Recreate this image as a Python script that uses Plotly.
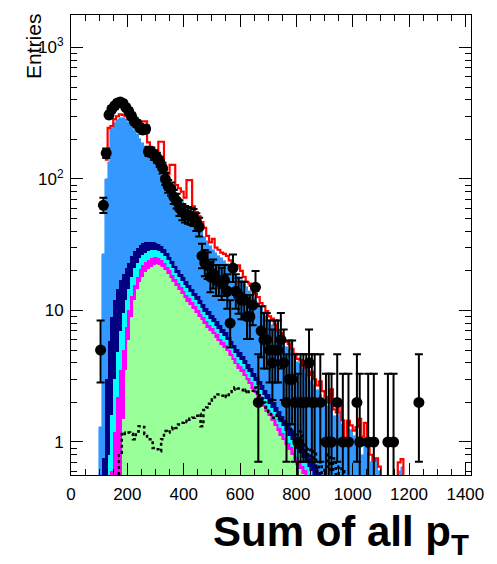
import math
import plotly.graph_objects as go

# ---------------- data (10 GeV bins, first bin starts at 100 GeV) ----------------
bin_width = 10.0
first_bin_low = 100.0

green = [0, 0, 0, 0, 0, 0, 0.05, 0.3, 1.5, 3.5,
         6, 9, 12, 14.5, 16.5, 18, 19.5, 20.5, 21.5, 22.2,
         22.5, 22.3, 21.5, 20.3, 19, 17.8, 16.5, 15.3, 14.2, 13.3,
         12.5, 11.7, 11, 10.3, 9.6, 9.0, 8.4, 7.9, 7.4, 7.0,
         6.6, 6.2, 5.9, 5.5, 5.2, 4.9, 4.5, 4.2, 3.9, 3.6,
         3.4, 3.2, 2.95, 2.75, 2.55, 2.35, 2.18, 2.0, 1.85, 1.7,
         1.57, 1.45, 1.33, 1.22, 1.12, 1.03, 0.95, 0.87, 0.8, 0.73,
         0.67, 0.62, 0.57, 0.52, 0.48, 0.44, 0.4, 0.36, 0.33, 0.3,
         0.27, 0.24, 0.22, 0.2, 0.18, 0.16, 0.14, 0.12, 0.1, 0.09,
         0.08, 0, 0, 0, 0, 0, 0, 0, 0, 0,
         0, 0, 0, 0, 0, 0, 0, 0, 0, 0,
         0, 0, 0, 0, 0]

magenta = [0, 0.05, 0.1, 0.3, 0.6, 1.2, 2.15, 3.2, 3.5, 4.0,
           4.0, 4.0, 3.5, 3.5, 4.0, 4.0, 3.8, 3.8, 3.5, 3.2,
           3.0, 2.9, 2.8, 2.7, 2.6, 2.4, 2.2, 2.0, 1.85, 1.7,
           1.6, 1.5, 1.4, 1.3, 1.2, 1.1, 1.02, 0.95, 0.88, 0.82,
           0.77, 0.72, 0.67, 0.62, 0.58, 0.54, 0.5, 0.47, 0.44, 0.41,
           0.38, 0.36, 0.33, 0.31, 0.29, 0.27, 0.25, 0.23, 0.21, 0.2,
           0.19, 0.18, 0.17, 0.16, 0.15, 0.14, 0.13, 0.12, 0.11, 0.11,
           0.1, 0.1, 0.09, 0.09, 0.08, 0.08, 0.07, 0.07, 0.06, 0.06,
           0.05, 0.05, 0.04, 0.04, 0.03, 0.03, 0, 0, 0, 0,
           0, 0, 0, 0, 0, 0, 0, 0, 0, 0,
           0, 0, 0, 0, 0, 0, 0, 0, 0, 0,
           0, 0, 0, 0, 0]

cyan = [0, 0.05, 0.2, 0.5, 1.0, 1.8, 2.6, 3.5, 4.5, 4.5,
        4.5, 5.0, 5.5, 5.0, 4.5, 4.5, 4.2, 3.9, 3.6, 3.4,
        3.2, 3.0, 2.9, 2.8, 2.6, 2.4, 2.2, 2.05, 1.9, 1.75,
        1.62, 1.5, 1.4, 1.3, 1.2, 1.12, 1.04, 0.97, 0.9, 0.84,
        0.78, 0.73, 0.68, 0.63, 0.59, 0.55, 0.51, 0.48, 0.45, 0.42,
        0.39, 0.37, 0.34, 0.32, 0.3, 0.28, 0.26, 0.24, 0.23, 0.21,
        0.2, 0.19, 0.18, 0.17, 0.16, 0.15, 0.14, 0.13, 0.12, 0.12,
        0.11, 0.1, 0.1, 0.09, 0.09, 0.08, 0.08, 0.07, 0.07, 0.06,
        0.06, 0.05, 0.05, 0.04, 0.04, 0.03, 0, 0, 0, 0,
        0, 0, 0, 0, 0, 0, 0, 0, 0, 0,
        0, 0, 0, 0, 0, 0, 0, 0, 0, 0,
        0, 0, 0, 0, 0]

navy = [0.3, 0.65, 2.7, 5.1, 7.4, 9.0, 9.7, 10, 9.5, 9,
        8.5, 8, 7.5, 7, 6.5, 6, 5.5, 5.1, 4.8, 4.4,
        4.1, 3.8, 3.6, 3.4, 3.2, 3.0, 2.8, 2.6, 2.45, 2.3,
        2.15, 2.0, 1.9, 1.78, 1.67, 1.57, 1.47, 1.38, 1.3, 1.22,
        1.15, 1.08, 1.02, 0.96, 0.9, 0.85, 0.8, 0.75, 0.71, 0.67,
        0.63, 0.6, 0.56, 0.53, 0.5, 0.47, 0.45, 0.42, 0.4, 0.38,
        0.36, 0.34, 0.32, 0.3, 0.29, 0.27, 0.26, 0.25, 0.23, 0.22,
        0.21, 0.2, 0.19, 0.18, 0.17, 0.16, 0.15, 0.14, 0.13, 0.12,
        0.11, 0.1, 0.1, 0.09, 0.08, 0.08, 0.07, 0.06, 0.05, 0.05,
        0.04, 0, 0, 0, 0, 0, 0, 0, 0, 0,
        0, 0, 0, 0, 0, 0, 0, 0, 0, 0,
        0, 0, 0, 0, 0]

blue = [1.0, 26.3, 97, 129, 231, 253, 265.5, 275, 273, 264,
        247, 226, 206.5, 188, 171.5, 155.5, 141, 127.7, 114.6, 101.8,
        90.2, 80, 73.2, 67.8, 63.6, 60.4, 57.3, 54, 50.6, 48,
        45.1, 42.3, 39.3, 36.3, 33.3, 30.2, 27.6, 25.3, 23.0, 21.1,
        19.7, 18.8, 17.7, 17.3, 16.7, 15.7, 14.7, 14.1, 13.5, 12.9,
        12.2, 11.5, 10.8, 10.1, 9.4, 8.8, 8.3, 7.7, 7.1, 6.6,
        6.1, 5.6, 5.2, 4.75, 4.4, 4.1, 3.8, 3.6, 3.45, 3.2,
        3.0, 2.9, 2.65, 2.4, 2.3, 2.15, 2.0, 1.85, 1.7, 1.6,
        1.5, 1.45, 1.6, 1.2, 1.25, 1.4, 1.15, 0.9, 1.1, 1.1,
        1.0, 1.3, 1.0, 0.8, 1.0, 0.82, 0.7, 0.72, 0.75, 0.6,
        0.5, 0.45, 0.4, 0.35, 0.35, 0.3, 0.6, 0.65, 0.3, 0.2,
        0.1, 0, 0, 0, 0]

red_extra = [0, 0, 40, 110, 12, 20, 20, 18, 15, 15,
             15, 18, 15, 22, 27, 86, 100, 29, 27, 25,
             22, 80, 88, 21, 19, 42, 47, 14, 14, 13,
             9, 39, 43, 11, 9, 9, 7.5, 6, 3.5, 2,
             6, 2.5, 3, 2.5, 3, 3.5, 3, 2, 2.5, 4,
             3, 2, 1.5, 2, 1.5, 1.2, 1.2, 0.8, 1.0, 0.8,
             0.6, 0.9, 0.6, 0.5, 0.6, 0.4, 0.5, 0.6, 0.4, 0.3,
             0.2, 0.3, 0.2, 0.4, 0.1, 0.5, 0.3, 0.2, 0.6, 0.3,
             0.2, 0.1, 0.5, 0.2, 0.1, 0.3, 0.1, 0.0, 0.2, 0.1,
             0.1, 0.0, 0.5, 0.3, 0.4, 0.1, 0.1, 0.0, 0.0, 0.05,
             0, 0, 0, 0, 0, 0, 0.1, 0.09, 0, 0,
             0, 0, 0, 0, 0]

signal = [0, 0, 0, 0, 0, 0, 0, 0.83, 1.18, 1.15,
          1.18, 1.15, 1.05, 1.2, 1.32, 1.3, 1.15, 1.1, 1.05, 0.9,
          0.88, 0.85, 1.05, 1.21, 1.18, 1.25, 1.3, 1.28, 1.36, 1.4,
          1.45, 1.42, 1.5, 1.53, 1.58, 1.63, 1.32, 1.75, 1.83, 1.95,
          2.1, 2.2, 2.3, 2.25, 2.3, 2.2, 2.4, 2.5, 2.6, 2.55,
          2.5, 2.4, 2.5, 2.4, 2.45, 2.6, 2.35, 2.24, 2.0, 1.83,
          1.7, 1.53, 1.6, 1.5, 1.53, 1.45, 1.4, 1.36, 1.25, 1.2,
          1.14, 1.2, 1.0, 0.8, 0.9, 0.75, 0.85, 0.6, 0.7, 0.55,
          0.65, 0.8, 0.6, 0.75, 0.5, 0.65, 0.6, 0.5, 0.3, 0.2,
          0, 0, 0, 0, 0, 0, 0, 0, 0, 0,
          0, 0, 0, 0, 0, 0, 0, 0, 0, 0,
          0, 0, 0, 0, 0]

data_counts = [5, 63, 157, 307, 340, 360, 379, 385, 375, 350,
               327, 300, 274, 262, 245, 236, 240, 162, 160, 152,
               145, 135, 121, 100, 88, 84, 73, 68, 60, 56,
               54, 53, 52, 51, 47, 43, 26, 23, 22, 18,
               19, 17, 17, 16, 17, 14, 8, 21, 14, 13,
               12, 12, 9, 9, 11, 15, 2, 7, 6, 6,
               5, 4, 5, 5, 6, 4, 2, 3, 3, 2,
               1, 2, 2, 2, 4, 2, 2, 0, 2, 0,
               1, 1, 1, 0, 2, 0, 1, 0, 1, 0,
               0, 2, 1, 0, 0, 1, 0, 1, 0, 0,
               0, 0, 1, 0, 1, 0, 0, 0, 0, 0,
               0, 0, 0, 2, 0]

x_tick_values = [0, 200, 400, 600, 800, 1000, 1200, 1400]
y_tick_values = [1, 10, 100, 1000]
y_tick_text = ["1", "10", "10<sup>2</sup>", "10<sup>3</sup>"]

# ---------------- derived ----------------
nb = len(blue)
lows = [first_bin_low + i * bin_width for i in range(nb)]
centers = [lo + bin_width / 2 for lo in lows]

FLOOR = 1e-3


def step_series(vals, start_at_first=False):
    """x/y for an 'hv' step outline of a histogram."""
    first = 0
    if start_at_first:
        while first < len(vals) and vals[first] <= 0:
            first += 1
    xs = [lows[i] for i in range(first, nb)] + [lows[-1] + bin_width]
    ys = [max(v, FLOOR) for v in vals[first:]]
    if not start_at_first:
        xs = [lows[0] - bin_width] + xs
        ys = [FLOOR] + ys
    ys = ys + [ys[-1]]
    return xs, ys


total_red = [g + m + c + n + b + r for g, m, c, n, b, r in
             zip(green, magenta, cyan, navy, blue, red_extra)]
# red outline is hidden by the blue stack where it does not stand above it
red_visible = [t if r > 0 else 0 for t, r in zip(total_red, red_extra)]
first_red = next(i for i, r in enumerate(red_extra) if r > 0)
red_for_line = [0] * first_red + total_red[first_red:]

# Garwood (Poisson 68%) intervals
GARWOOD = {1: (0.173, 3.300), 2: (0.708, 4.638), 3: (1.367, 5.918),
           4: (2.086, 7.163), 5: (2.840, 8.382), 6: (3.620, 9.584),
           7: (4.419, 10.77), 8: (5.232, 11.95), 9: (6.057, 13.11),
           10: (6.891, 14.27)}


def interval(n):
    if n in GARWOOD:
        return GARWOOD[n]
    return (n - math.sqrt(n - 0.25), n + math.sqrt(n + 0.75) + 1.0)


dx, dy, eplus, eminus = [], [], [], []
for xc, n in zip(centers, data_counts):
    if n <= 0:
        continue
    lo, hi = interval(n)
    dx.append(xc)
    dy.append(n)
    eplus.append(hi - n)
    eminus.append(n - lo)

fig = go.Figure()

stack = [
    (green, "#99ff99"),
    (magenta, "#ff00ff"),
    (cyan, "#00ffff"),
    (navy, "#000080"),
    (blue, "#3399ff"),
]
for vals, col in stack:
    fig.add_trace(go.Bar(
        x=centers, y=vals, width=bin_width,
        marker=dict(color=col, line=dict(color=col, width=0.6)),
        showlegend=False, hoverinfo="skip"))

rx, ry = step_series(red_for_line, start_at_first=True)
fig.add_trace(go.Scatter(
    x=rx, y=ry, mode="lines",
    line=dict(color="#ff0000", width=2.2, shape="hv"),
    showlegend=False, hoverinfo="skip"))

sx, sy = step_series(signal)
fig.add_trace(go.Scatter(
    x=sx, y=sy, mode="lines",
    line=dict(color="black", width=2.5, shape="hv", dash="dot"),
    showlegend=False, hoverinfo="skip"))

fig.add_trace(go.Scatter(
    x=dx, y=dy, mode="markers",
    marker=dict(color="black", size=11, symbol="circle"),
    error_y=dict(type="data", symmetric=False, array=eplus, arrayminus=eminus,
                 color="black", thickness=2, width=4),
    showlegend=False, hoverinfo="skip"))

axis_font = dict(family="Liberation Sans, Arial, sans-serif", size=17, color="black")

fig.update_layout(
    width=497, height=564,
    margin=dict(l=71, r=26, t=15, b=89),
    paper_bgcolor="white", plot_bgcolor="white",
    barmode="stack", bargap=0, bargroupgap=0,
    showlegend=False,
    xaxis=dict(range=[0, 1420], tickvals=x_tick_values,
               ticks="inside", ticklen=12, tickwidth=1, tickcolor="black",
               minor=dict(ticks="inside", ticklen=6, dtick=50, tickcolor="black", showgrid=False),
               showline=True, linecolor="black", linewidth=1, mirror="ticks",
               showgrid=False, zeroline=False, tickfont=axis_font,
               ticklabelstandoff=4),
    yaxis=dict(type="log", range=[-0.251, 3.247],
               tickvals=y_tick_values, ticktext=y_tick_text,
               ticks="inside", ticklen=12, tickwidth=1, tickcolor="black",
               minor=dict(ticks="inside", ticklen=6, tickcolor="black", showgrid=False,
                          tickvals=[m * 10 ** d for d in range(-1, 4) for m in range(2, 10)]),
               showline=True, linecolor="black", linewidth=1, mirror="ticks",
               showgrid=False, zeroline=False, tickfont=axis_font,
               ticklabelstandoff=3),
)

fig.add_annotation(
    text="Entries", xref="paper", yref="paper",
    x=-0.092, y=1.006, xanchor="center", yanchor="top", textangle=-90,
    showarrow=False,
    font=dict(family="Liberation Sans, Arial, sans-serif", size=21, color="black"))

fig.add_annotation(
    text="<b>Sum of all p<sub>T</sub></b>", xref="paper", yref="paper",
    x=1.0, y=-0.068, xanchor="right", yanchor="top",
    showarrow=False,
    font=dict(family="Liberation Sans, Arial, sans-serif", size=42, color="black"))

fig.write_html("out.html")
